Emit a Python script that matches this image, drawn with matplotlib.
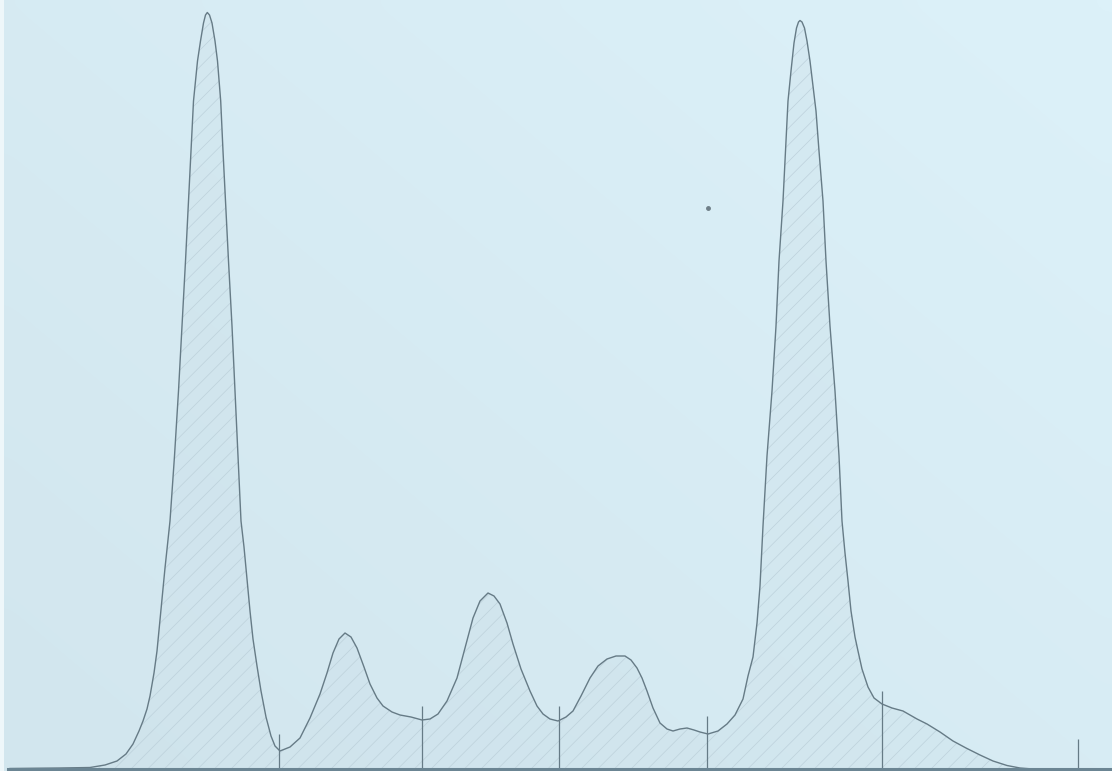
import numpy as np
import matplotlib
matplotlib.use("Agg")
import matplotlib.pyplot as plt
from matplotlib.colors import LinearSegmentedColormap

# Densitometer scan: position along the strip vs. optical density
position = [10, 60, 90, 105, 117, 126, 133, 139, 143, 147, 150, 154, 157, 161, 165,
            170, 174.5, 178.5, 182, 185.5, 188.5, 191, 193.5, 197.5, 200.5, 203.5,
            205.5, 207.3, 209.5, 212, 215, 217.5, 220.7, 223, 225.5, 228.5, 232, 235,
            238, 241, 244, 247, 250, 253, 257, 261, 266, 271, 275, 280, 290, 300,
            310, 320, 327, 333, 339, 345, 351, 357, 364, 370, 377, 383, 392, 400,
            411, 422, 430, 438, 447, 457, 465, 473, 480, 488, 494, 500, 507, 513,
            521, 530, 537, 543, 550, 558, 566, 573, 581, 590, 598, 607, 616, 625,
            631, 637, 642, 647, 653, 660, 667, 673, 680, 687, 694, 700, 708, 718,
            727, 735, 743, 748, 753, 757, 760, 763, 767, 772, 776, 779, 783, 785.5,
            788, 791, 794, 796.5, 798.5, 800, 802, 804.5, 807, 810, 813, 816, 819,
            823, 826, 830, 835, 839, 842, 845, 848, 851, 855, 858, 862, 868, 874,
            882, 892, 903, 917, 927, 940, 953, 966, 980, 993, 1007, 1020, 1033, 1112]
density = [0.5, 1, 1.5, 4, 8, 15, 25, 38, 48, 60, 73, 96, 118, 160, 201,
           248, 313, 378, 443, 508, 568, 618, 668, 708, 728, 746,
           754, 756.5, 754, 746, 728, 708, 668, 618, 568, 508, 443, 378,
           313, 248, 222, 190, 158, 130, 103, 78, 52, 33, 23, 18, 22, 31,
           51, 75, 96, 116, 130, 136, 132, 121, 102, 85, 71, 63, 57, 54,
           52, 49, 50, 55, 68, 91, 121, 151, 168, 176, 173, 165, 146, 125,
           100, 78, 63, 55, 50, 48, 52, 58, 73, 91, 103, 110, 113, 113,
           109, 101, 91, 78, 61, 46, 40, 38, 40, 41, 39, 37, 35, 38,
           45, 54, 70, 93, 112, 146, 183, 243, 313, 378, 443, 508, 568, 618,
           668, 698, 726, 741, 747, 748.5, 747, 741, 728, 708, 683, 658, 618,
           568, 508, 443, 378, 313, 248, 216, 188, 158, 132, 118, 100, 82, 71,
           65, 61, 58, 50, 45, 37, 28, 21, 14, 8, 3.5, 1, 0, 0]

# Fraction boundaries marked on the trace
divider_pos = [279, 422, 559, 707, 882, 1078]
divider_top = [35, 63, 63, 53, 78, 30]

bg_dark = "#d2e6ee"
bg_light = "#dcf1f9"
trace_color = "#667b86"

plt.rcParams["hatch.linewidth"] = 0.5
plt.rcParams["hatch.color"] = "#b9ced8"

fig = plt.figure(figsize=(11.12, 7.71), dpi=100)
ax = fig.add_axes([0, 0, 1, 1])
ax.set_xlim(0, 1112)
ax.set_ylim(-2, 769)
ax.set_axis_off()

# paper background, slightly brighter toward the upper right
cmap = LinearSegmentedColormap.from_list("paper", [bg_dark, bg_light])
gx, gy = np.meshgrid(np.linspace(0, 1, 64), np.linspace(0, 1, 64))
ax.imshow(0.55 * gx + 0.45 * gy, cmap=cmap, extent=(0, 1112, -2, 769),
          origin="lower", aspect="auto", zorder=0, interpolation="bicubic")
ax.axvspan(0, 4, color="#eef7fa", zorder=0.5, lw=0)

# faint hatched area under the trace
ax.fill_between(position, 0, density, facecolor="#cadee7", alpha=0.3,
                lw=0, zorder=1)
ax.fill_between(position, 0, density, facecolor="none", hatch="//",
                edgecolor="#bdd1db", lw=0, zorder=1.2)

ax.plot(position, density, color=trace_color, lw=1.0, zorder=3,
        solid_joinstyle="round")
ax.vlines(divider_pos, 0, divider_top, color=trace_color, lw=0.9, zorder=3)
ax.axhline(0, xmin=8 / 1112, xmax=1, color="#6b8593", lw=2.2, zorder=4)
ax.plot([708], [561], marker="o", ms=2.5, color="#6f7f88", zorder=3)

fig.savefig("out.png", dpi=100, facecolor=bg_dark)
